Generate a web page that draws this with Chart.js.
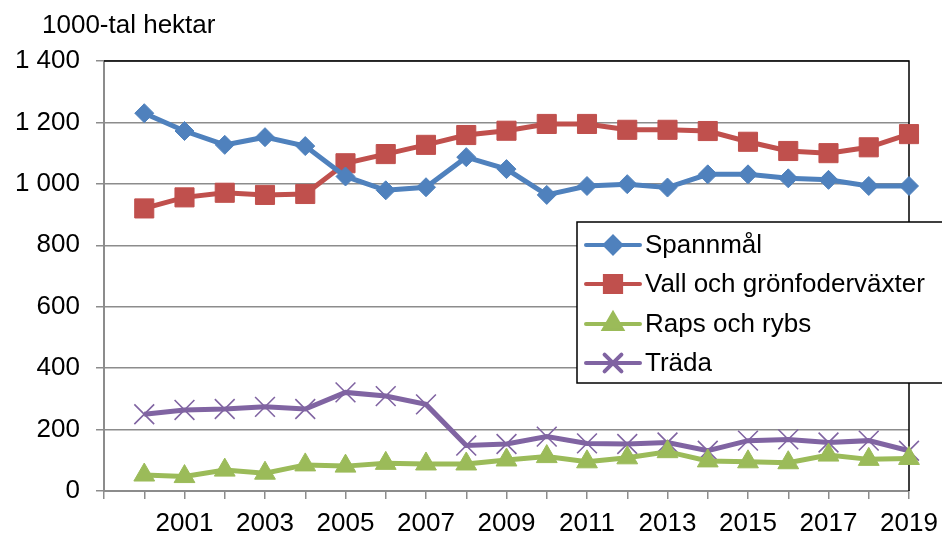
<!DOCTYPE html>
<html>
<head>
<meta charset="utf-8">
<script src="https://cdn.jsdelivr.net/npm/chart.js@4.4.1/dist/chart.umd.min.js"></script>
<style>
  html, body { margin: 0; padding: 0; background: #fff; }
  #wrap { width: 942px; height: 533px; }
</style>
</head>
<body>
<div id="wrap"><canvas id="myChart" width="942" height="533"></canvas></div>
<script>
// Data, 1000-tal hektar
const years = [2000, 2001, 2002, 2003, 2004, 2005, 2006, 2007, 2008, 2009,
               2010, 2011, 2012, 2013, 2014, 2015, 2016, 2017, 2018, 2019];
const spannmal = [1230, 1172, 1127, 1152, 1123, 1024, 979, 989, 1087, 1048,
                  964, 993, 999, 988, 1031, 1031, 1018, 1013, 993, 993];
const vall = [920, 956, 971, 964, 967, 1067, 1097, 1127, 1159, 1173,
              1195, 1195, 1176, 1176, 1172, 1137, 1107, 1100, 1119, 1162];
const raps = [52, 47, 68, 58, 85, 81, 90, 88, 88, 101,
              112, 95, 108, 128, 98, 95, 92, 117, 103, 106];
const trada = [250, 264, 267, 274, 267, 321, 309, 282, 148, 153,
               177, 155, 153, 158, 131, 164, 168, 158, 164, 131];
const seriesNames = ["Spannmål", "Vall och grönfoderväxter", "Raps och rybs", "Träda"];
const yTicks = [0, 200, 400, 600, 800, 1000, 1200, 1400];
const unitLabel = "1000-tal hektar";

const FONT = "'Liberation Sans', Arial, sans-serif";
const GRID = "#8c8c8c";

function toPoints(arr) {
    return arr.map((v, i) => ({x: years[i], y: v}));
}

function formatNum(v) {
    if (v >= 1000) return Math.floor(v / 1000) + " " + String(v % 1000).padStart(3, "0");
    return String(v);
}

// Ram uppe och till hoger
const frame = {
    id: "frame",
    beforeDatasetsDraw(chart) {
        const {ctx, chartArea: a} = chart;
        ctx.save();
        ctx.strokeStyle = "#000";
        ctx.lineWidth = 1.5;
        ctx.beginPath();
        ctx.moveTo(a.left, a.top);
        ctx.lineTo(a.right, a.top);
        ctx.lineTo(a.right, a.bottom);
        ctx.stroke();
        ctx.restore();
    }
};

// Enhet och legend
const extras = {
    id: "extras",
    afterDraw(chart) {
        const ctx = chart.ctx;
        ctx.save();
        ctx.fillStyle = "#000";
        ctx.font = "26px " + FONT;
        ctx.textBaseline = "alphabetic";
        ctx.fillText(unitLabel, 42, 33);

        // legend box
        const bx = 577, by = 222, bw = 380, bh = 161;
        ctx.fillStyle = "#fff";
        ctx.fillRect(bx, by, bw, bh);
        ctx.strokeStyle = "#000";
        ctx.lineWidth = 1.5;
        ctx.strokeRect(bx, by, bw, bh);

        const rows = [245, 284, 324, 363];
        chart.data.datasets.forEach((ds, i) => {
            const y = rows[i];
            ctx.strokeStyle = ds.borderColor;
            ctx.lineWidth = 4;
            ctx.lineCap = "round";
            ctx.beginPath();
            ctx.moveTo(586, y);
            ctx.lineTo(640, y);
            ctx.stroke();
            Chart.helpers.drawPoint(ctx, {
                pointStyle: ds.pointStyle,
                radius: ds.pointRadius * 0.85,
                rotation: 0,
                borderWidth: ds.pointBorderWidth
            }, 613, y);
            ctx.fillStyle = ds.pointBackgroundColor;
            ctx.strokeStyle = ds.pointBorderColor;
            ctx.lineWidth = ds.pointBorderWidth;
            ctx.fill();
            ctx.stroke();
            ctx.fillStyle = "#000";
            ctx.font = "26px " + FONT;
            ctx.textBaseline = "middle";
            ctx.fillText(ds.label, 645, y + 1);
        });
        ctx.restore();
    }
};

function makeSet(label, data, color, style, radius, pbw, pbc) {
    return {
        label: label,
        data: toPoints(data),
        borderColor: color,
        backgroundColor: color,
        borderWidth: 5,
        pointStyle: style,
        pointRadius: radius,
        pointHoverRadius: radius,
        pointBackgroundColor: color,
        pointBorderColor: pbc || color,
        pointBorderWidth: pbw,
        tension: 0,
        clip: false
    };
}

let ctx = document.getElementById("myChart");
let myChart = new Chart(ctx, {
    type: "line",
    data: {
        datasets: [
            makeSet(seriesNames[0], spannmal, "#4F81BD", "rectRot", 9.5, 1),
            makeSet(seriesNames[1], vall, "#C0504D", "rect", 13.5, 1),
            makeSet(seriesNames[2], raps, "#9BBB59", "triangle", 12, 1),
            makeSet(seriesNames[3], trada, "#8064A2", "crossRot", 14, 1.6)
        ]
    },
    options: {
        responsive: false,
        animation: false,
        layout: {padding: {top: 61, right: 33, bottom: 0, left: 0}},
        plugins: {
            legend: {display: false},
            title: {display: false},
            tooltip: {enabled: false}
        },
        scales: {
            x: {
                type: "linear",
                min: 1999,
                max: 2019,
                afterFit(scale) {
                    scale.height = 42;
                    scale.paddingLeft = 0;
                    scale.paddingRight = 0;
                },
                afterBuildTicks(scale) {
                    const t = [];
                    for (let v = 1999; v <= 2019; v++) t.push({value: v});
                    scale.ticks = t;
                },
                ticks: {
                    autoSkip: false,
                    maxRotation: 0,
                    minRotation: 0,
                    padding: 9,
                    color: "#000",
                    font: {family: FONT, size: 26},
                    callback: v => (v > 1999 && v % 2 === 1) ? String(v) : ""
                },
                grid: {
                    drawOnChartArea: false,
                    drawTicks: true,
                    tickLength: 8,
                    color: GRID,
                    lineWidth: 1.5
                },
                border: {color: GRID, width: 2}
            },
            y: {
                min: 0,
                max: 1400,
                afterFit(scale) { scale.width = 104; },
                afterBuildTicks(scale) {
                    scale.ticks = yTicks.map(v => ({value: v}));
                },
                ticks: {
                    padding: 16,
                    color: "#000",
                    font: {family: FONT, size: 26},
                    callback: v => formatNum(v)
                },
                grid: {
                    color: GRID,
                    lineWidth: 1.5,
                    tickLength: 8
                },
                border: {color: GRID, width: 2}
            }
        }
    },
    plugins: [frame, extras]
});
</script>
</body>
</html>
